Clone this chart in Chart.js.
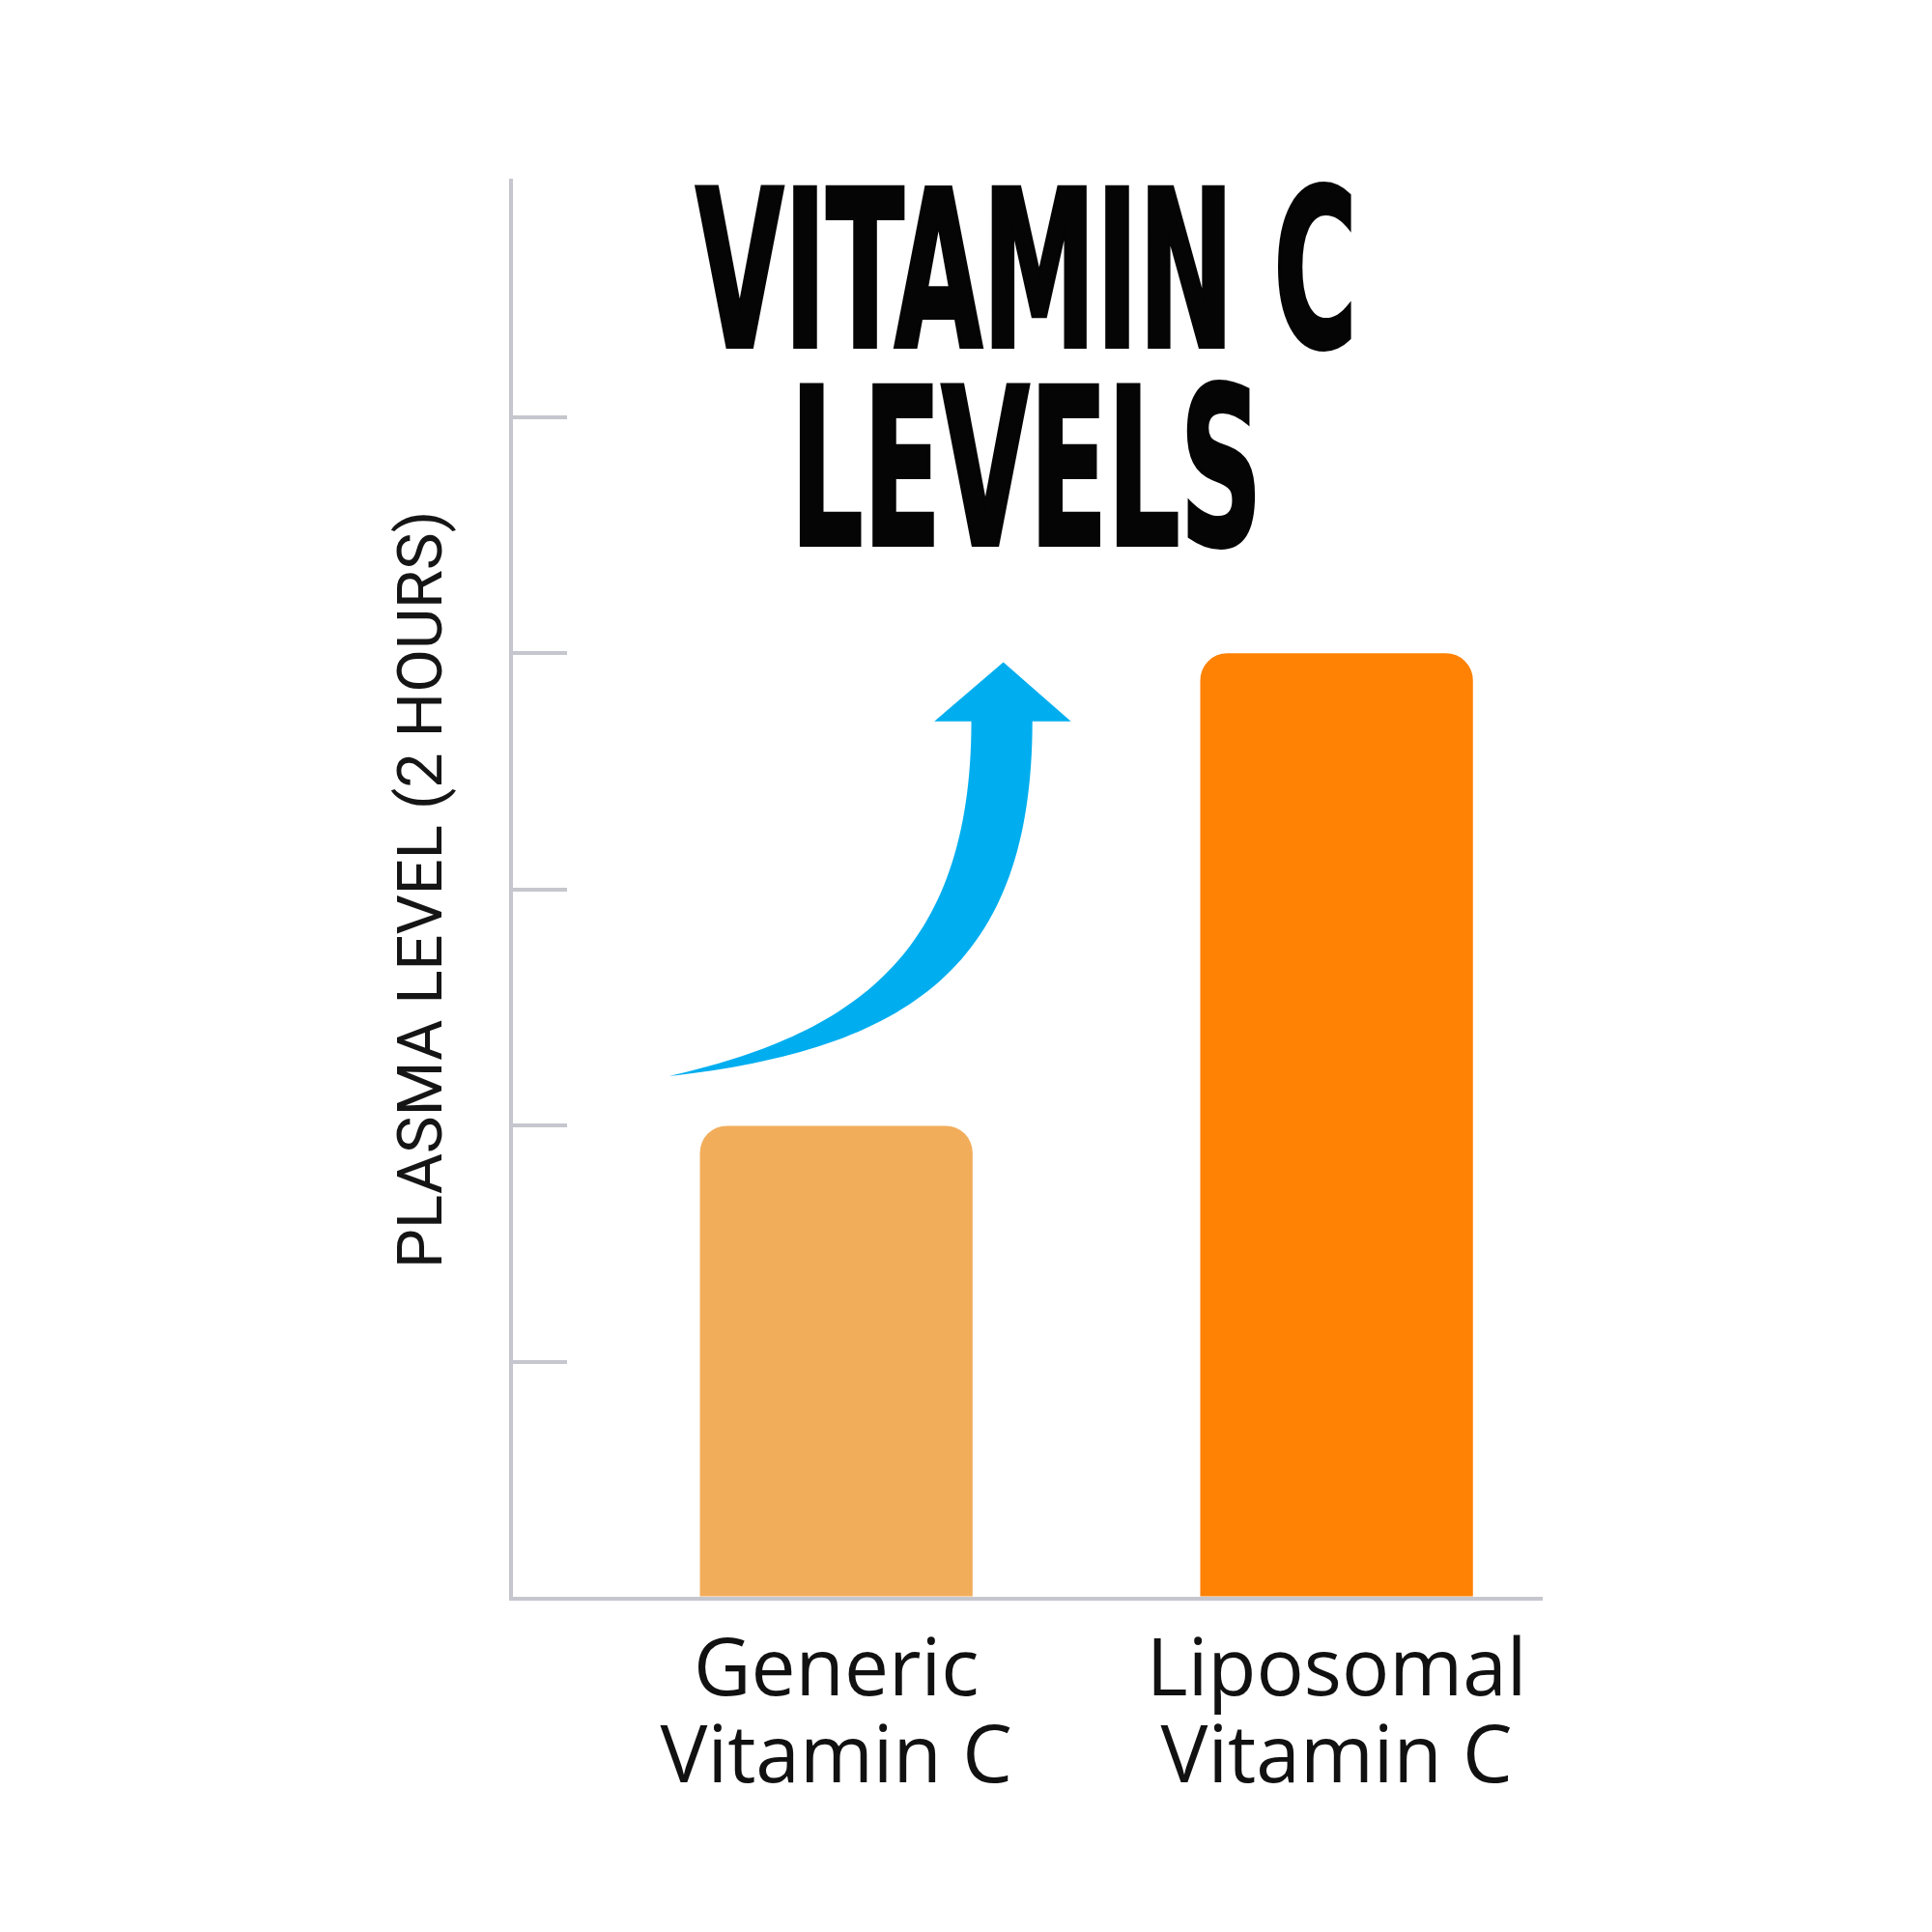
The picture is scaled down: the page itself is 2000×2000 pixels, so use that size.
<!DOCTYPE html>
<html>
<head>
<meta charset="utf-8">
<title>Vitamin C Levels</title>
<script src="https://cdn.jsdelivr.net/npm/chart.js@4.4.1/dist/chart.umd.min.js"></script>
<style>
  html, body { margin: 0; padding: 0; background: #fff; }
  #myChart { display: block; width: 2000px; height: 2000px; }
</style>
</head>
<body>
<canvas id="myChart" width="2000" height="2000"></canvas>
<script>
// Chart data
const categories = [['Generic', 'Vitamin C'], ['Liposomal', 'Vitamin C']];
const categoryPositions = [1, 2];   // where each bar sits on the x scale
const plasmaLevels = [2, 4];        // relative plasma level after 2 hours
const titleLines = ['VITAMIN C', 'LEVELS'];
const yAxisTitle = 'PLASMA LEVEL (2 HOURS)';

const barColors = ['#F2AD5B', '#FF8205'];
const axisGray = '#C6C6CE';
const arrowBlue = '#00AEEF';

// Big condensed title drawn inside the plot area, centred on it
const titlePlugin = {
  id: 'bigTitle',
  afterDraw(chart) {
    const { ctx, chartArea } = chart;
    const cx = (chartArea.left + chartArea.right) / 2;
    ctx.save();
    ctx.font = "bold 226px 'Liberation Sans Narrow', 'DejaVu Sans Condensed', 'Liberation Sans', sans-serif";
    ctx.fillStyle = '#050505';
    ctx.strokeStyle = '#050505';
    ctx.lineWidth = 4;
    ctx.lineJoin = 'miter';
    ctx.textAlign = 'center';
    ctx.textBaseline = 'alphabetic';
    const w = ctx.measureText(titleLines[0]).width;
    const sx = chartArea.width * 0.642 / w; // squeeze to a DIN-condensed look
    titleLines.forEach((line, i) => {
      ctx.save();
      ctx.translate(cx, chartArea.top + 172 + i * 205);
      ctx.scale(sx, 1);
      ctx.fillText(line, 0, 0);
      ctx.strokeText(line, 0, 0);
      ctx.restore();
    });
    ctx.restore();
  }
};

// Curved "rise" arrow from the generic bar up toward the liposomal level
const arrowPlugin = {
  id: 'riseArrow',
  afterDatasetsDraw(chart) {
    const { ctx, scales: { x, y } } = chart;
    const p = (a, b) => [x.getPixelForValue(a), y.getPixelForValue(b)];
    const tail = p(0.666, 2.21);
    ctx.save();
    ctx.fillStyle = arrowBlue;
    ctx.beginPath();
    ctx.moveTo(...tail);
    // outer edge of the shaft
    ctx.bezierCurveTo(...p(1.144, 2.325), ...p(1.392, 2.673), ...p(1.392, 3.712));
    // arrow head
    ctx.lineTo(...p(1.469, 3.712));
    ctx.lineTo(...p(1.334, 3.962));
    ctx.lineTo(...p(1.196, 3.712));
    ctx.lineTo(...p(1.270, 3.712));
    // inner edge back to the tail
    ctx.bezierCurveTo(...p(1.270, 2.714), ...p(1.028, 2.386), ...tail);
    ctx.closePath();
    ctx.fill();
    ctx.restore();
  }
};

Chart.defaults.font.family = "'Open Sans', sans-serif";
Chart.defaults.color = '#111';

const ctx = document.getElementById('myChart').getContext('2d');

new Chart(ctx, {
  type: 'bar',
  data: {
    datasets: [{
      data: categoryPositions.map((pos, i) => ({ x: pos, y: plasmaLevels[i] })),
      backgroundColor: barColors,
      borderRadius: 28,
      borderSkipped: 'start',
      categoryPercentage: 1,
      barPercentage: 0.545
    }]
  },
  options: {
    responsive: false,
    animation: false,
    devicePixelRatio: 1,
    layout: {
      padding: { top: 187, right: 404, bottom: 101, left: 397 }
    },
    plugins: {
      legend: { display: false },
      tooltip: { enabled: false }
    },
    scales: {
      x: {
        type: 'linear',
        offset: false,
        min: 0.35,
        max: 2.41,
        afterBuildTicks: scale => {
          scale.ticks = categoryPositions.map(v => ({ value: v }));
        },
        ticks: {
          callback: (value, index) => categories[index],
          font: { family: "'Open Sans', sans-serif", size: 82, weight: '500', lineHeight: 1.1 },
          color: '#111',
          padding: 32,
          maxRotation: 0,
          autoSkip: false
        },
        grid: { display: false, drawTicks: false },
        border: { display: true, color: axisGray, width: 4 }
      },
      y: {
        min: 0,
        max: 6,
        ticks: { stepSize: 1, display: false },
        grid: {
          drawOnChartArea: false,
          drawTicks: true,
          tickLength: -58, // short ticks pointing into the plot
          lineWidth: 4,
          color: c => (c.tick && (c.tick.value === 0 || c.tick.value === 6)) ? 'rgba(0,0,0,0)' : axisGray
        },
        border: { display: true, color: axisGray, width: 4 },
        title: {
          display: true,
          text: yAxisTitle,
          font: { family: 'Roboto', size: 65 },
          color: '#151515',
          padding: { top: 5, bottom: 107 }
        }
      }
    }
  },
  plugins: [titlePlugin, arrowPlugin]
});
</script>
</body>
</html>
